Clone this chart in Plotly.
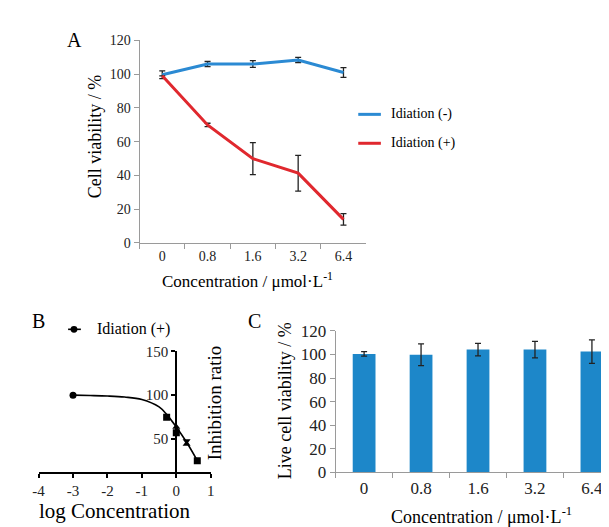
import plotly.graph_objects as go

W, H = 609, 527
SERIF = "Times New Roman"

# ---------------- data ----------------
conc_labels = ["0", "0.8", "1.6", "3.2", "6.4"]

# Panel A
a_minus = [99.6, 106.0, 106.0, 108.4, 101.0]
a_minus_err = [2.3, 1.5, 2.0, 1.5, 2.9]
a_plus = [99.0, 69.9, 49.9, 41.3, 13.9]
a_plus_err = [0.0, 1.0, 9.5, 10.6, 3.4]

# Panel B
b_xticks = [-4, -3, -2, -1, 0, 1]
b_xtick_labels = ["-4", "-3", "-2", "-1", "0", "1"]
b_x = [-3.0, -0.28, 0.0, 0.0, 0.3, 0.3, 0.61]
b_y = [100.0, 74.8, 63.5, 57.0, 47.5, 44.0, 25.0]
b_fit_x = [-3.0, -2.5, -2.0, -1.5, -1.0, -0.5, -0.28, 0.0, 0.3, 0.61]
b_fit_y = [100.0, 99.6, 99.0, 97.8, 95.0, 86.5, 78.0, 63.5, 46.0, 25.0]

# Panel C
c_vals = [100.5, 99.8, 104.2, 104.2, 102.5]
c_err = [1.9, 9.3, 5.3, 7.0, 10.0]


def px(x):
    return x / W


def py(y):
    return 1 - y / H


blue = "#2b8ad3"
red = "#e0282e"
barc = "#1d87c9"
tickc = "#222222"
gray = "#9a9a9a"

fig = go.Figure()

# ---- Panel A ----
fig.add_trace(go.Scatter(
    x=conc_labels, y=a_minus, mode="lines",
    line=dict(color=blue, width=3),
    error_y=dict(type="data", array=a_minus_err, color="#222", thickness=1.3, width=3),
    xaxis="x", yaxis="y", showlegend=False, name="Idiation (-)"))
fig.add_trace(go.Scatter(
    x=conc_labels, y=a_plus, mode="lines",
    line=dict(color=red, width=3),
    error_y=dict(type="data", array=a_plus_err, color="#222", thickness=1.3, width=3),
    xaxis="x", yaxis="y", showlegend=False, name="Idiation (+)"))

# ---- Panel B ----
fig.add_trace(go.Scatter(
    x=b_fit_x, y=b_fit_y, mode="lines", line=dict(color="black", width=1.6, shape="spline"),
    xaxis="x2", yaxis="y2", showlegend=False, hoverinfo="skip"))
b_symbols = ["circle", "square", "triangle-up", "square", "triangle-down", "triangle-up", "square"]
fig.add_trace(go.Scatter(
    x=b_x, y=b_y, mode="markers",
    marker=dict(color="black", size=7, symbol=b_symbols),
    xaxis="x2", yaxis="y2", showlegend=False, name="Idiation (+)"))

# ---- Panel C ----
fig.add_trace(go.Bar(
    x=conc_labels, y=c_vals, marker=dict(color=barc, line=dict(width=0)),
    error_y=dict(type="data", array=c_err, color="#222", thickness=1.3, width=3),
    xaxis="x3", yaxis="y3", showlegend=False, width=0.4))


def tickfont(s):
    return dict(family=SERIF, size=s, color=tickc)


# B: y-axis crossing at x = 0
bx0, bx1 = px(25), px(200)
b_range = [-4, 1]
b_ypos = bx0 + (0 - b_range[0]) / (b_range[1] - b_range[0]) * (bx1 - bx0)

fig.update_layout(
    width=W, height=H,
    margin=dict(l=0, r=0, t=0, b=0),
    paper_bgcolor="white", plot_bgcolor="white",
    font=dict(family=SERIF, color="black"),
    bargap=0.6,
    xaxis=dict(domain=[px(127.7), px(358)], anchor="y", type="category",
               range=[-0.5, 4.5], tickson="boundaries", ticks="outside", ticklen=5,
               tickcolor=gray, showline=True, linecolor=gray, linewidth=1,
               showgrid=False, zeroline=False, tickfont=tickfont(14)),
    yaxis=dict(domain=[py(234.3), py(24.3)], anchor="x", range=[0, 120], dtick=20,
               ticks="outside", ticklen=5, tickcolor=gray, showline=True, linecolor=gray,
               linewidth=1, showgrid=False, zeroline=False, tickfont=tickfont(14)),
    xaxis2=dict(domain=[bx0, bx1], anchor="y2", range=b_range,
                tickvals=b_xticks, ticktext=b_xtick_labels,
                ticks="outside", ticklen=4, tickcolor="black", tickwidth=1.5,
                showline=True, linecolor="black", linewidth=2,
                showgrid=False, zeroline=False, tickfont=tickfont(15)),
    yaxis2=dict(domain=[py(472), py(347)], anchor="free", position=b_ypos,
                range=[12, 150], tickvals=[50, 100, 150],
                ticks="outside", ticklen=4, tickcolor="black", tickwidth=1.5,
                showline=True, linecolor="black", linewidth=2,
                showgrid=False, zeroline=False, tickfont=tickfont(15)),
    xaxis3=dict(domain=[px(327), 1], anchor="y3", type="category",
                range=[-0.5, 4.37], tickson="boundaries", ticks="outside", ticklen=5,
                tickcolor=gray, showline=True, linecolor=gray, linewidth=1,
                showgrid=False, zeroline=False, tickfont=tickfont(17)),
    yaxis3=dict(domain=[py(472.3), py(325.7)], anchor="x3", range=[0, 120], dtick=20,
                ticks="outside", ticklen=5, tickcolor=gray, showline=True, linecolor=gray,
                linewidth=1, showgrid=False, zeroline=False, tickfont=tickfont(17)),
)

ann = []


def text(x, y, s, size, angle=0, xanchor="center", color="black"):
    ann.append(dict(x=px(x), y=py(y), xref="paper", yref="paper", text=s, showarrow=False,
                    textangle=angle, xanchor=xanchor, yanchor="middle",
                    font=dict(family=SERIF, size=size, color=color)))


# panel letters
text(62, 24, "A", 20)
text(25, 315, "B", 20)
text(245, 315, "C", 20)

# axis titles
text(82, 124, "Cell viability / %", 18, angle=-90)
text(237, 273, "Concentration / μmol·L<sup>-1</sup>", 17)
text(204, 400, "Inhibition ratio", 19, angle=-90)
text(103, 512, "log Concentration", 21)
text(275, 398, "Live cell viability / %", 18, angle=-90)
text(475, 517, "Concentration / μmol·L<sup>-1</sup>", 18)

# legend A
text(381, 101, "Idiation (-)", 14, xanchor="left")
text(381, 131, "Idiation (+)", 14, xanchor="left")
# legend B
text(82, 324, "Idiation (+)", 16, xanchor="left")

fig.update_layout(annotations=ann)

shapes = [
    dict(type="line", xref="paper", yref="paper", x0=px(350), x1=px(373), y0=py(101), y1=py(101),
         line=dict(color=blue, width=3)),
    dict(type="line", xref="paper", yref="paper", x0=px(350), x1=px(373), y0=py(131), y1=py(131),
         line=dict(color=red, width=3)),
    dict(type="line", xref="paper", yref="paper", x0=px(55), x1=px(68), y0=py(324), y1=py(324),
         line=dict(color="black", width=1.6)),
    dict(type="circle", xref="paper", yref="paper", x0=px(57.5), x1=px(64.5), y0=py(320.5), y1=py(327.5),
         fillcolor="black", line=dict(color="black", width=0)),
]
fig.update_layout(shapes=shapes)

fig.write_html("out.html")
